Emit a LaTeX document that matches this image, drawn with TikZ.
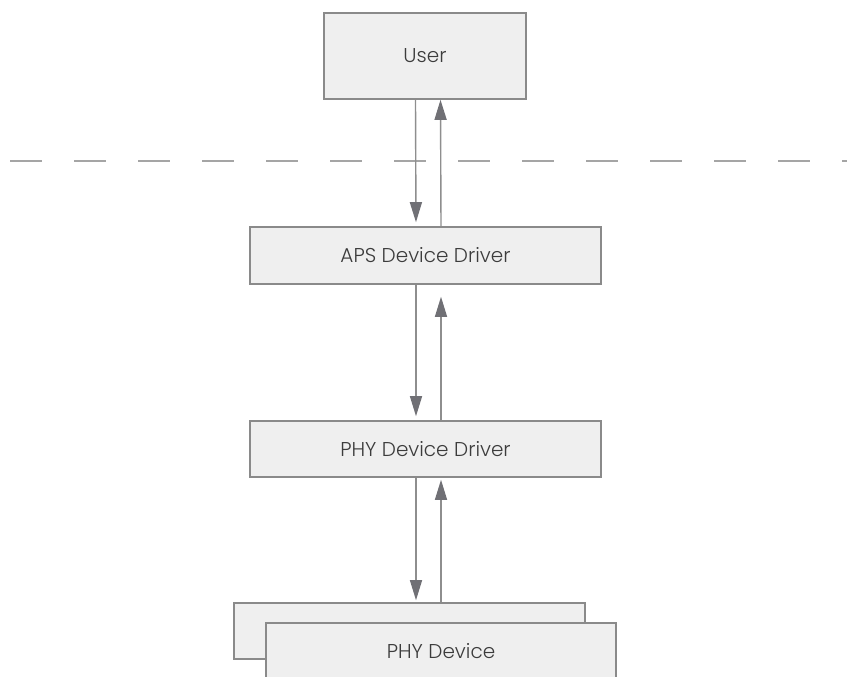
\documentclass[tikz,border=0pt]{standalone}
\usepackage{fontspec}
\setmainfont{Poppins}[UprightFont={* Light}]
\usetikzlibrary{arrows.meta}
\definecolor{boxfill}{HTML}{EFEFEF}
\definecolor{boxline}{HTML}{8A8A8A}
\definecolor{arrowline}{HTML}{8E8E8E}
\definecolor{arrowtip}{HTML}{707075}
\definecolor{textgray}{HTML}{3C3C3C}
\begin{document}
\begin{tikzpicture}[x=1pt, y=-1pt,
    main/.style = {draw=boxline, fill=boxfill, line width=1.6pt, inner sep=0pt, text=textgray, font=\fontsize{20}{22}\selectfont},
    arrow/.style = {draw=arrowline, line width=1.4pt, -{Triangle[length=20pt, width=12pt, color=arrowtip]}},
    border/.style = {draw=arrowline!80, line width=1.8pt, dash pattern=on 32pt off 32pt, dash phase=54pt}]

    \useasboundingbox (0,0) rectangle (847,677);

    \node [main, minimum width=202pt, minimum height=86pt] (user) at (425, 56) {User};
    \node [main, minimum width=351pt, minimum height=57pt] (aps) at (425.5, 255.5) {APS Device Driver};
    \node [main, minimum width=351pt, minimum height=56pt] (phydd) at (425.5, 449) {PHY Device Driver};
    \node [main, minimum width=351pt, minimum height=56pt] (back) at (409.5, 631) {};
    \node [main, minimum width=350pt, minimum height=56pt] (phy) at (441, 651) {PHY Device};

    \draw [border] (0, 161) -- (847, 161);

    \draw [arrow, shorten >=4pt] ([xshift=-9.5pt]user.south) -- ([xshift=-9.5pt]aps.north);
    \draw [arrow] ([xshift=15.5pt]aps.north) -- ([xshift=15.5pt]user.south);
    \draw [arrow, shorten >=4pt] ([xshift=-9.5pt]aps.south) -- ([xshift=-9.5pt]phydd.north);
    \draw [arrow, shorten >=12pt] ([xshift=15.5pt]phydd.north) -- ([xshift=15.5pt]aps.south);
    \draw [arrow, shorten >=2pt] ([xshift=-9.5pt]phydd.south) -- ([xshift=-9.5pt]phydd.south |- back.north);
    \draw [arrow, shorten >=2pt] ([xshift=15.5pt]phydd.south |- back.north) -- ([xshift=15.5pt]phydd.south);

\end{tikzpicture}
\end{document}
